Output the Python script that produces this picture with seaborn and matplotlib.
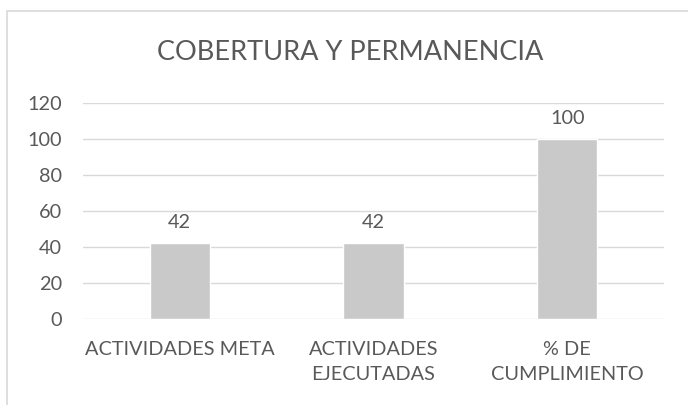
import matplotlib
matplotlib.use("Agg")
import matplotlib.pyplot as plt
import seaborn as sns
from matplotlib.patches import Rectangle

categorias = ["ACTIVIDADES META", "ACTIVIDADES\nEJECUTADAS", "% DE\nCUMPLIMIENTO"]
valores = [42, 42, 100]
y_ticks = [0, 20, 40, 60, 80, 100, 120]
titulo = "COBERTURA Y PERMANENCIA"

sns.set_style("white")
plt.rcParams['font.family'] = ['Lato', 'DejaVu Sans']
gris_texto = '#595959'

fig = plt.figure(figsize=(6.88, 4.05), dpi=100)
ax = fig.add_axes([83/688, 1 - 319/405, (664 - 83)/688, (319 - 103)/405])

sns.barplot(x=categorias, y=valores, color='#c9c9c9', saturation=1, width=0.31, ax=ax)

ax.set_ylim(0, 120)
ax.set_xlim(-0.5, 2.5)
ax.set_yticks(y_ticks)
ax.yaxis.grid(True, color='#d9d9d9', linewidth=1)
ax.set_axisbelow(True)
for s in ax.spines.values():
    s.set_visible(False)
ax.tick_params(axis='y', length=0, pad=15, labelsize=14.3, labelcolor=gris_texto)
ax.tick_params(axis='x', length=0, pad=16, labelsize=14.3, labelcolor=gris_texto)
for lbl in ax.get_xticklabels():
    lbl.set_linespacing(1.55)
ax.set_xlabel('')
ax.set_ylabel('')

ax.bar_label(ax.containers[0], padding=9, fontsize=14.3, color=gris_texto)

fig.text(350/688, 1 - 52.5/405, titulo, ha='center', va='center', fontsize=19.5, color=gris_texto)

# borde del area del grafico
fig.patches.append(Rectangle((7/688, -0.2), 1.2, 1.2 - 11/405, transform=fig.transFigure,
                             fill=False, edgecolor='#d9d9d9', linewidth=1.2))

fig.savefig('out.png', dpi=100)
